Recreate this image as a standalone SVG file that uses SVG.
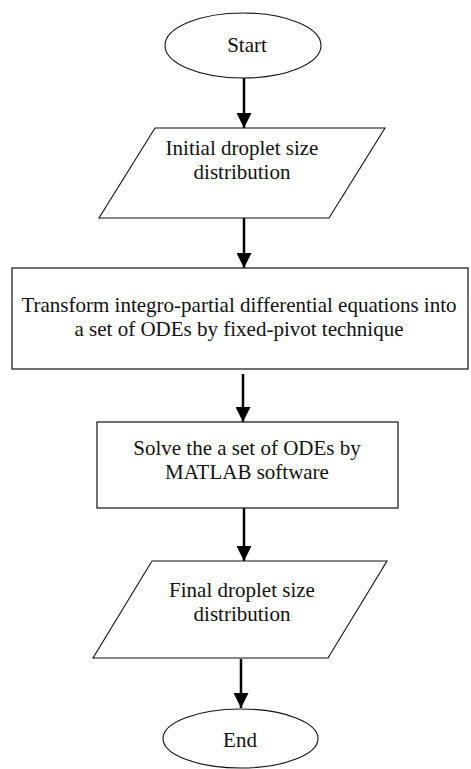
<svg xmlns="http://www.w3.org/2000/svg" width="471" height="769" viewBox="0 0 471 769">
<style>
.shape{fill:#fff;stroke:#111;stroke-width:1.1}
.box{fill:#fff;stroke:#333;stroke-width:1.4}
.t{font-family:"Liberation Serif","Times New Roman",serif;font-size:21px;fill:#111;text-anchor:middle}
.conn{stroke:#000;stroke-width:2.5;fill:none}
</style>
<defs>
<marker id="ah" markerWidth="6" markerHeight="6" refX="6" refY="3" orient="auto" markerUnits="strokeWidth">
<path d="M0,0 L6,3 L0,6 Z" fill="#000"/>
</marker>
</defs>
<rect width="471" height="769" fill="#fff"/>
<g id="connectors">
<line class="conn" x1="244" y1="78" x2="244" y2="128" marker-end="url(#ah)"/>
<line class="conn" x1="244" y1="218" x2="244" y2="268" marker-end="url(#ah)"/>
<line class="conn" x1="243" y1="374" x2="243" y2="422" marker-end="url(#ah)"/>
<line class="conn" x1="244" y1="508" x2="244" y2="561" marker-end="url(#ah)"/>
<line class="conn" x1="241" y1="659" x2="241" y2="708" marker-end="url(#ah)"/>
</g>
<g id="start">
<ellipse class="shape" cx="243" cy="45.5" rx="78" ry="32.5"/>
<text class="t" x="247" y="52">Start</text>
</g>
<g id="initial">
<polygon class="shape" points="155,128 385,128 329,218 99,218"/>
<text class="t" x="242" y="155">Initial droplet size</text>
<text class="t" x="242" y="179">distribution</text>
</g>
<g id="transform">
<rect class="box" x="12" y="268" width="456" height="101"/>
<text class="t" x="239" y="312">Transform integro-partial differential equations into</text>
<text class="t" x="239" y="336">a set of ODEs by fixed-pivot technique</text>
</g>
<g id="solve">
<rect class="box" x="97" y="422" width="301" height="86"/>
<text class="t" x="247" y="455">Solve the a set of ODEs by</text>
<text class="t" x="247" y="479">MATLAB software</text>
</g>
<g id="final">
<polygon class="shape" points="152,561 387,561 328,658 93,658"/>
<text class="t" x="242" y="597">Final droplet size</text>
<text class="t" x="242" y="621">distribution</text>
</g>
<g id="end">
<ellipse class="shape" cx="240.5" cy="738.5" rx="77.5" ry="29.5"/>
<text class="t" x="240" y="747">End</text>
</g>
</svg>
